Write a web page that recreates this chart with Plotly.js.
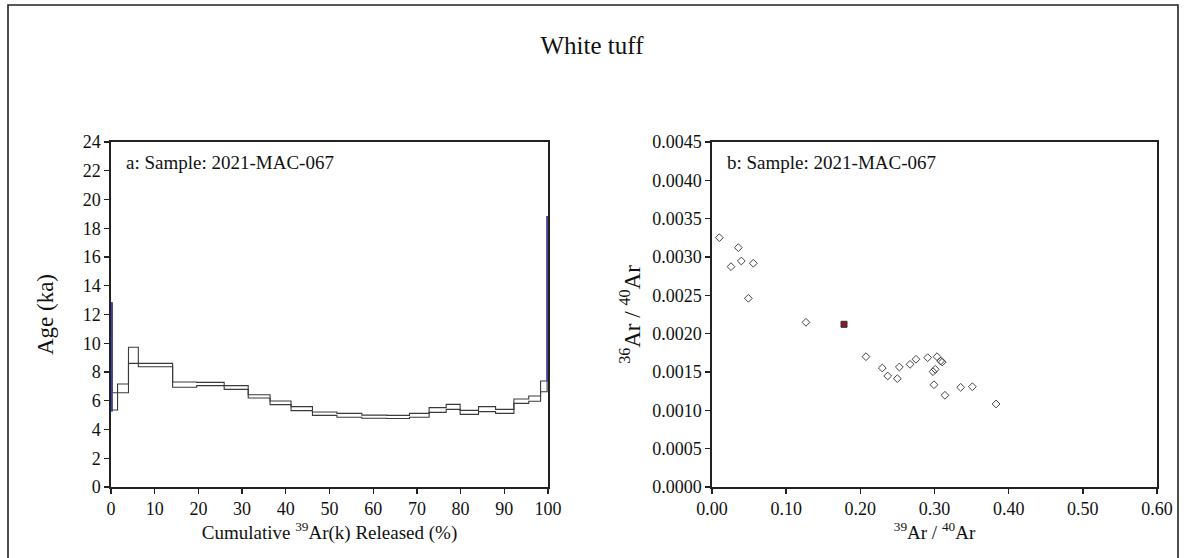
<!DOCTYPE html>
<html>
<head>
<meta charset="utf-8">
<script src="https://cdn.plot.ly/plotly-3.0.1.min.js"></script>
<style>html,body{margin:0;padding:0;background:#fff;}#chart{width:1184px;height:558px;}</style>
</head>
<body>
<div id="chart"></div>
<script>
// ---- Data: age spectrum (left panel) ----
const stepCum = [0, 0.25, 1.5, 4.0, 6.25, 14.1, 19.6, 25.9, 31.4, 36.4, 41.2, 46.1, 51.7, 57.4, 63.1, 68.3, 72.8, 76.7, 79.9, 84.1, 88.0, 92.2, 95.6, 98.3, 99.8, 100];
const ageMin = [5.3, 5.36, 6.56, 8.6, 8.37, 6.94, 7.05, 6.79, 6.19, 5.73, 5.31, 4.98, 4.85, 4.78, 4.76, 4.85, 5.19, 5.40, 5.05, 5.24, 5.12, 5.82, 5.96, 6.63, 7.4];
const ageMax = [12.8, 6.56, 7.17, 9.72, 8.6, 7.3, 7.28, 7.05, 6.42, 5.98, 5.59, 5.22, 5.12, 5.0, 4.98, 5.12, 5.52, 5.75, 5.33, 5.59, 5.40, 6.12, 6.33, 7.37, 18.8];
const stepExcluded = [true, false, false, false, false, false, false, false, false, false, false, false, false, false, false, false, false, false, false, false, false, false, false, false, true];

// ---- Data: isochron (right panel) ----
const ar39ar40 = [0.0099, 0.0355, 0.0256, 0.0395, 0.0557, 0.049, 0.1267, 0.2076, 0.2296, 0.2369, 0.2526, 0.2499, 0.267, 0.275, 0.2908, 0.3034, 0.3083, 0.3105, 0.301, 0.298, 0.2993, 0.3141, 0.3353, 0.351, 0.383];
const ar36ar40 = [0.003252, 0.003122, 0.002874, 0.002948, 0.002918, 0.002461, 0.002148, 0.0017, 0.001552, 0.001448, 0.001565, 0.001413, 0.0016, 0.001666, 0.001687, 0.0017, 0.001643, 0.00163, 0.001535, 0.001504, 0.001334, 0.001196, 0.0013, 0.001308, 0.001083];
const highlightX = [0.178];
const highlightY = [0.002122];

const titleText = "White tuff";
const labelA = "a: Sample: 2021-MAC-067";
const labelB = "b: Sample: 2021-MAC-067";

// Build envelope step lines (upper and lower) from the step table
function envelope(vals) {
  const xs = [], ys = [];
  for (let i = 0; i < vals.length; i++) { xs.push(stepCum[i]); ys.push(vals[i]); }
  xs.push(stepCum[vals.length]); ys.push(vals[vals.length - 1]);
  return {xs, ys};
}
const upper = envelope(ageMax);
const lower = envelope(ageMin);
// end caps of the spectrum
const capX = [stepCum[0], stepCum[0], null, stepCum[stepCum.length - 1], stepCum[stepCum.length - 1]];
const capY = [ageMin[0], ageMax[0], null, ageMin[ageMin.length - 1], ageMax[ageMax.length - 1]];
// excluded steps as boxes
const exX = [], exY = [];
for (let i = 0; i < ageMin.length; i++) {
  if (!stepExcluded[i]) continue;
  const x0 = stepCum[i], x1 = stepCum[i + 1];
  exX.push(x0, x1, x1, x0, x0, null);
  exY.push(ageMin[i], ageMin[i], ageMax[i], ageMax[i], ageMin[i], null);
}

const FONT = '"Liberation Serif", "DejaVu Serif", serif';
const LC = '#3a3a3a';

const traces = [
  {x: upper.xs, y: upper.ys, xaxis: 'x', yaxis: 'y', mode: 'lines', line: {color: LC, width: 1.1, shape: 'hv'}, hoverinfo: 'skip', showlegend: false, cliponaxis: false},
  {x: lower.xs, y: lower.ys, xaxis: 'x', yaxis: 'y', mode: 'lines', line: {color: LC, width: 1.1, shape: 'hv'}, hoverinfo: 'skip', showlegend: false, cliponaxis: false},
  {x: capX, y: capY, xaxis: 'x', yaxis: 'y', mode: 'lines', line: {color: LC, width: 1.1}, hoverinfo: 'skip', showlegend: false, cliponaxis: false},
  {x: exX, y: exY, xaxis: 'x', yaxis: 'y', mode: 'lines', line: {color: '#4040a0', width: 1.6}, hoverinfo: 'skip', showlegend: false, cliponaxis: false},
  {x: ar39ar40, y: ar36ar40, xaxis: 'x2', yaxis: 'y2', mode: 'markers', marker: {symbol: 'diamond-open', size: 6, color: '#444', line: {width: 1}}, showlegend: false},
  {x: highlightX, y: highlightY, xaxis: 'x2', yaxis: 'y2', mode: 'markers', marker: {symbol: 'square', size: 6, color: '#8a1a2e', line: {color: '#333', width: 1}}, showlegend: false}
];

const axBase = {
  showline: true, linecolor: '#222', linewidth: 1.6, mirror: true,
  ticks: 'outside', ticklen: 5, tickwidth: 1.4, tickcolor: '#222',
  showgrid: false, zeroline: false, automargin: false,
  tickfont: {family: FONT, size: 18, color: '#111'},
  layer: 'below traces'
};

const W = 1184, H = 558;
const layout = {
  width: W, height: H,
  margin: {l: 0, r: 0, t: 0, b: 0},
  paper_bgcolor: '#fff', plot_bgcolor: '#fff',
  font: {family: FONT, color: '#111'},
  title: {text: titleText, font: {family: FONT, size: 25, color: '#111'}, x: 0.5, xanchor: 'center', y: 1 - 45 / H, yanchor: 'middle'},
  xaxis: Object.assign({}, axBase, {
    domain: [111 / W, 548 / W], anchor: 'y', range: [0, 100], tickvals: [0,10,20,30,40,50,60,70,80,90,100],
    title: {text: 'Cumulative <sup>39</sup>Ar(k) Released (%)', font: {family: FONT, size: 19}, standoff: 6}
  }),
  yaxis: Object.assign({}, axBase, {
    domain: [1 - 487 / H, 1 - 142 / H], anchor: 'x', range: [0, 24], dtick: 2,
    title: {text: 'Age (ka)', font: {family: FONT, size: 23}, standoff: 23}
  }),
  xaxis2: Object.assign({}, axBase, {
    domain: [712 / W, 1157 / W], anchor: 'y2', range: [0, 0.6], dtick: 0.1, tickformat: '.2f',
    title: {text: '<sup>39</sup>Ar / <sup>40</sup>Ar', font: {family: FONT, size: 19}, standoff: 6}
  }),
  yaxis2: Object.assign({}, axBase, {
    domain: [1 - 487 / H, 1 - 142 / H], anchor: 'x2', range: [0, 0.0045], dtick: 0.0005, tickformat: '.4f',
    title: {text: '<sup>36</sup>Ar / <sup>40</sup>Ar', font: {family: FONT, size: 23}, standoff: 5}
  }),
  annotations: [
    {xref: 'x domain', yref: 'y domain', x: 0.03, y: 0.94, xanchor: 'left', yanchor: 'middle', text: labelA, showarrow: false, font: {family: FONT, size: 19, color: '#111'}},
    {xref: 'x2 domain', yref: 'y2 domain', x: 0.03, y: 0.94, xanchor: 'left', yanchor: 'middle', text: labelB, showarrow: false, font: {family: FONT, size: 19, color: '#111'}}
  ],
  shapes: [
    {type: 'rect', xref: 'paper', yref: 'paper', x0: 8 / W, x1: 1178 / W, y0: -0.02, y1: 1 - 5 / H, line: {color: '#222', width: 1.6}, fillcolor: 'rgba(0,0,0,0)', layer: 'below'}
  ]
};

Plotly.newPlot('chart', traces, layout, {displayModeBar: false, staticPlot: true});
</script>
</body>
</html>
